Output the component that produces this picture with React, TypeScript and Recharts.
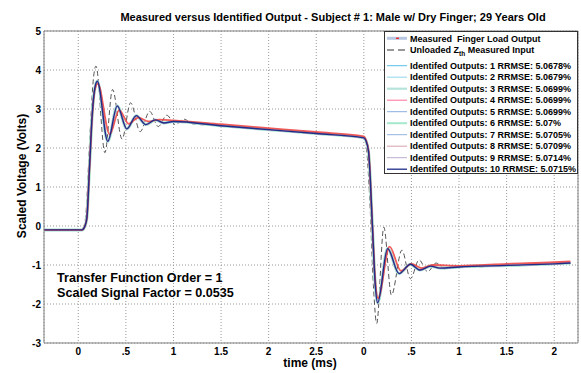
import React from 'react';
import { ComposedChart, Line, XAxis, YAxis, CartesianGrid, ReferenceLine } from 'recharts';

type P = [number, number];

// time (ms, continuous axis) vs scaled voltage
const measured: P[] = [
  [-0.36, -0.1], [0.04, -0.1], [0.07, 0.0], [0.09, 0.2], [0.12, 1.6], [0.145, 2.75], [0.175, 3.5], [0.205, 3.65],
  [0.33, 2.35], [0.43, 2.97], [0.53, 2.62], [0.63, 2.78], [0.74, 2.68], [0.85, 2.73], [1.0, 2.71], [1.5, 2.61],
  [2.0, 2.51], [2.5, 2.41], [3.0, 2.3], [3.02, 2.22], [3.05, 1.92], [3.09, 0.0], [3.12, -1.4], [3.15, -1.85],
  [3.27, -0.53], [3.39, -1.15], [3.5, -0.97], [3.61, -1.08], [3.72, -1.0], [4.0, -1.02], [4.5, -0.97], [5.0, -0.93], [5.17, -0.91],
];

const unloaded: P[] = [
  [-0.36, -0.1], [0.03, -0.1], [0.06, 0.0], [0.08, 0.3], [0.12, 2.2], [0.16, 3.8], [0.186, 4.1], [0.28, 1.88],
  [0.36, 3.5], [0.46, 2.23], [0.55, 3.16], [0.65, 2.42], [0.75, 2.94], [0.84, 2.55], [0.93, 2.84], [1.02, 2.6],
  [1.11, 2.74], [1.2, 2.62], [1.5, 2.57], [2.0, 2.47], [2.5, 2.37], [3.0, 2.26], [3.02, 2.15], [3.06, 0.8],
  [3.1, -1.5], [3.135, -2.5], [3.21, -0.03], [3.29, -1.77], [3.4, -0.62], [3.49, -1.35], [3.58, -0.87], [3.67, -1.17],
  [3.76, -0.95], [3.85, -1.1], [3.95, -1.02], [4.0, -1.06], [4.5, -1.02], [5.0, -0.98], [5.17, -0.96],
];

const identified: P[] = [
  [-0.36, -0.1], [0.04, -0.1], [0.07, 0.0], [0.09, 0.2], [0.12, 1.6], [0.145, 2.8], [0.175, 3.55], [0.2, 3.71],
  [0.31, 2.17], [0.41, 3.08], [0.51, 2.49], [0.61, 2.83], [0.71, 2.6], [0.81, 2.72], [0.9, 2.64], [1.0, 2.68],
  [1.5, 2.57], [2.0, 2.47], [2.5, 2.37], [3.0, 2.26], [3.02, 2.2], [3.05, 1.9], [3.09, 0.0], [3.12, -1.5],
  [3.145, -1.97], [3.25, -0.58], [3.37, -1.22], [3.49, -0.98], [3.59, -1.13], [3.7, -1.03], [3.8, -1.08],
  [4.0, -1.05], [4.5, -1.01], [5.0, -0.97], [5.17, -0.95],
];

const fitIds = [1, 2, 3, 4, 5, 6, 7, 8, 9, 10];
const fitRrmse = ['5.0678', '5.0679', '5.0699', '5.0699', '5.0699', '5.07', '5.0705', '5.0709', '5.0714', '5.0715'];

const xTicks = [0, 0.5, 1, 1.5, 2, 2.5, 3, 3.5, 4, 4.5, 5];
const xTickLabels = ['0', '.5', '1', '1.5', '2', '2.5', '0', '.5', '1', '1.5', '2'];
const yTicks = [-3, -2, -1, 0, 1, 2, 3, 4, 5];

const title = 'Measured versus Identified Output - Subject # 1: Male w/ Dry Finger; 29 Years Old';
const annotations = ['Transfer Function Order = 1', 'Scaled Signal Factor = 0.0535'];

// styles
const FONT = "'Liberation Sans', Arial, Helvetica, sans-serif";
const fitColors = ['#5bbfe8', '#9fdcec', '#b6e4dc', '#ff6f98', '#8aaee0', '#a6e8cc', '#92b2e0', '#d6a0aa', '#bcaccc', '#1e2c8a'];
const fitWidths = [1.5, 1.8, 3, 1.2, 1.5, 2.5, 1.5, 1.2, 1.2, 1.4];
const fitLegendWidths = [1, 1.2, 2.2, 1, 1, 2, 1, 1, 1, 1.3];

const rows = (pts: P[]) => pts.map(([t, v]) => ({ t, v }));

const legendRowY = [7.3, 19, 34.7, 46.2, 57.7, 69.2, 80.7, 92.2, 103.7, 115.2, 126.7, 138.2];

export default function App() {
  const legendX = 384;
  const legendY = 31;
  return (
    <div style={{ position: 'absolute', left: 0, top: 0, width: 581, height: 373, background: '#fff' }}>
      <ComposedChart width={581} height={373} margin={{ top: 31, right: 3, bottom: 0, left: 0 }}>
        <CartesianGrid stroke="#9a9a9a" strokeDasharray="1 2" />
        <XAxis
          dataKey="t"
          type="number"
          domain={[-0.36, 5.25]}
          ticks={xTicks}
          allowDataOverflow
          height={30}
          tickSize={0}
          tickMargin={5}
          axisLine={{ stroke: '#808080' }}
          tickFormatter={(v: number) => xTickLabels[xTicks.indexOf(v)] ?? String(v)}
          tick={{ fontSize: 10, fontWeight: 'bold', fill: '#000', fontFamily: FONT }}
        />
        <YAxis
          type="number"
          domain={[-3, 5]}
          ticks={yTicks}
          allowDataOverflow
          width={44}
          tickSize={0}
          tickMargin={3}
          axisLine={{ stroke: '#808080' }}
          tick={{ fontSize: 10, fontWeight: 'bold', fill: '#000', fontFamily: FONT }}
        />
        <ReferenceLine y={5} stroke="#808080" />
        <ReferenceLine x={5.25} stroke="#808080" />
        <Line
          data={rows(unloaded)}
          dataKey="v"
          name="Unloaded Zth Measured Input"
          type="monotone"
          stroke="#555"
          strokeWidth={1}
          strokeDasharray="5 3"
          dot={false}
          isAnimationActive={false}
        />
        {fitIds.slice(0, 9).map((id, i) => (
          <Line
            key={id}
            data={rows(identified)}
            dataKey="v"
            name={`Identifed Outputs: ${id} RRMSE: ${fitRrmse[i]}%`}
            type="monotone"
            stroke={fitColors[i]}
            strokeWidth={fitWidths[i]}
            dot={false}
            isAnimationActive={false}
          />
        ))}
        <Line
          data={rows(measured)}
          dataKey="v"
          name="Measured Finger Load Output"
          type="monotone"
          stroke="#f04040"
          strokeOpacity={0.85}
          strokeWidth={1.8}
          dot={false}
          isAnimationActive={false}
        />
        <Line
          data={rows(identified)}
          dataKey="v"
          name={`Identifed Outputs: 10 RRMSE: ${fitRrmse[9]}%`}
          type="monotone"
          stroke={fitColors[9]}
          strokeWidth={fitWidths[9]}
          dot={false}
          isAnimationActive={false}
        />
      </ComposedChart>
      <svg
        width={581}
        height={373}
        style={{ position: 'absolute', left: 0, top: 0, pointerEvents: 'none' }}
        fontFamily={FONT}
        fontWeight="bold"
      >
        <text x={333} y={21} textAnchor="middle" fontSize={11} fill="#000">{title}</text>
        <text transform="translate(26,176) rotate(-90)" textAnchor="middle" fontSize={12} fill="#000">Scaled Voltage (Volts)</text>
        <text x={310} y={367} textAnchor="middle" fontSize={12} fill="#000">time (ms)</text>
        {annotations.map((a, i) => (
          <text key={a} x={57} y={282 + i * 15} fontSize={12.6} fill="#000">{a}</text>
        ))}
        <g transform={`translate(${legendX},${legendY})`}>
          <rect x={0.5} y={0.5} width={193} height={142} fill="#fff" stroke="#333" strokeWidth={1} />
          <line x1={3} x2={23} y1={legendRowY[0]} y2={legendRowY[0]} stroke="#b8c8e2" strokeWidth={3} />
          <line x1={12} x2={15} y1={legendRowY[0]} y2={legendRowY[0]} stroke="#f03030" strokeWidth={1.5} />
          <text x={26} y={legendRowY[0] + 3.2} fontSize={9} fill="#000">{'Measured\u00a0 Finger Load Output'}</text>
          <line x1={3} x2={23} y1={legendRowY[1]} y2={legendRowY[1]} stroke="#333" strokeWidth={1} strokeDasharray="7 4" />
          <text x={26} y={legendRowY[1] + 3.2} fontSize={9} fill="#000">
            <tspan>Unloaded Z</tspan>
            <tspan fontSize={6.5} dy={2.5}>th</tspan>
            <tspan dy={-2.5}>{'\u00a0Measured Input'}</tspan>
          </text>
          {fitIds.map((id, i) => (
            <g key={id}>
              <line x1={3} x2={23} y1={legendRowY[i + 2]} y2={legendRowY[i + 2]} stroke={fitColors[i]} strokeWidth={fitLegendWidths[i]} />
              <text x={26} y={legendRowY[i + 2] + 3.2} fontSize={9} fill="#000">{`Identifed Outputs: ${id} RRMSE: ${fitRrmse[i]}%`}</text>
            </g>
          ))}
        </g>
      </svg>
    </div>
  );
}
